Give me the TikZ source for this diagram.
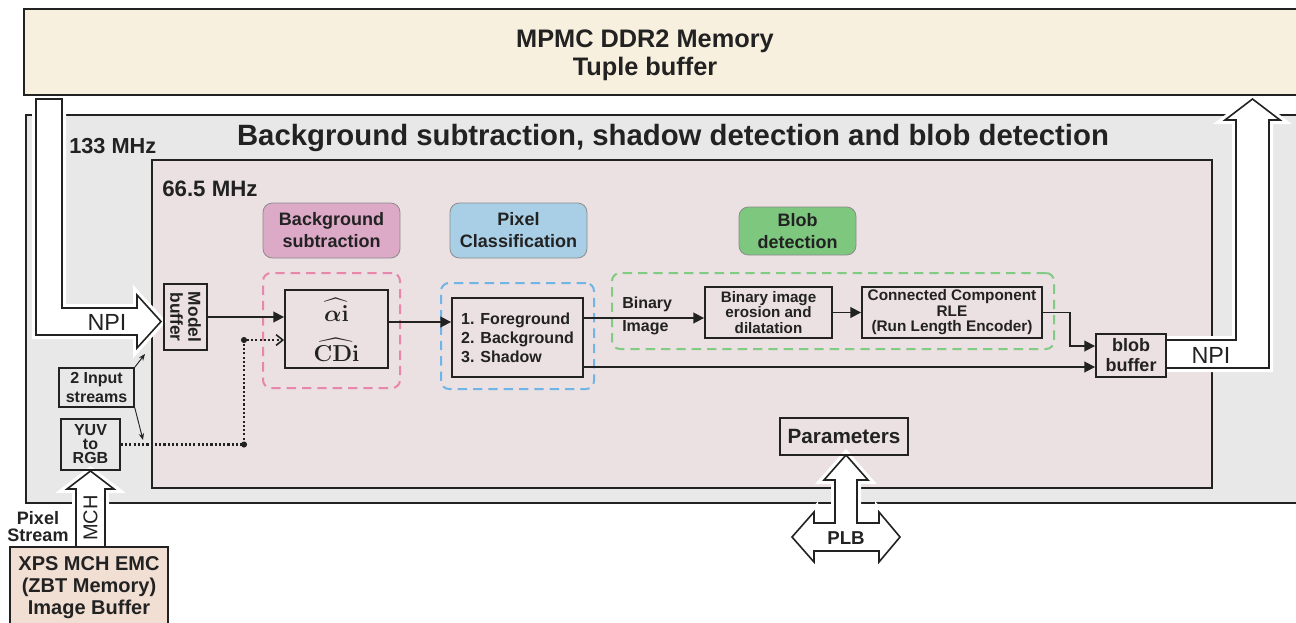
\documentclass[tikz,border=0pt]{standalone}
\usepackage{amsmath}
\usepackage[no-math]{fontspec}
\setmainfont{Liberation Sans}
\usetikzlibrary{fit,arrows.meta}
\definecolor{cream}{HTML}{F8F0DE}
\definecolor{framegray}{HTML}{E8E8E8}
\definecolor{innerpink}{HTML}{EBE0E2}
\definecolor{lblpink}{HTML}{DCA9C7}
\definecolor{lblblue}{HTML}{A9CFE6}
\definecolor{lblgreen}{HTML}{7DC77F}
\definecolor{dpink}{HTML}{E887AC}
\definecolor{dblue}{HTML}{6FB6E6}
\definecolor{dgreen}{HTML}{80CC82}
\definecolor{xpsfill}{HTML}{F2DFD3}
\definecolor{ink}{HTML}{222222}
\newcommand\fsz[2]{\fontsize{#1}{#2}\selectfont}
\begin{document}
\begin{tikzpicture}[x=0.75pt,y=-0.75pt,
  every node/.style={text=ink},
  sz/.style 2 args={minimum width={#1*0.75pt}, minimum height={#2*0.75pt}},
  region/.style={inner sep=0pt, draw=ink},
  box/.style={draw=ink, line width=1.4pt, inner sep=0pt, align=center},
  lbl/.style={rounded corners=7pt, draw=black!45, line width=0.6pt, inner sep=0pt, align=center, font=\fsz{13.5}{16.5}\bfseries},
  dbox/.style={dash pattern=on 7pt off 4.5pt, line width=1.5pt, rounded corners=6pt, inner sep=0pt},
  arr/.style={draw=ink, line width=1.3pt, -{Triangle[length=8pt,width=8pt]}},
  thinarr/.style={draw=ink, line width=0.7pt, -{Stealth[length=5pt,width=4pt]}},
  dotl/.style={draw=ink, line width=1.6pt, dash pattern=on 1.6pt off 1.6pt, -{Straight Barb[length=5pt,width=8pt,line width=1.2pt]}},
  big/.style={fill=white, draw=ink, line width=1.2pt, line join=miter, preaction={draw=white, line width=6pt}},
]
\useasboundingbox (0,0) rectangle (1296,622);
\clip (0,0) rectangle (1296,622);

% regions
\node[region, fit={(26,115)(1330,503)}, fill=framegray, line width=2.2pt] (outer) {};
\node[region, fit={(152,160)(1212,488)}, fill=innerpink, line width=1.5pt] (inner) {};

% big hollow arrows
\path[big] (36,99) -- (62,99) -- (62,308) -- (137,308) -- (137,295) -- (161,321.5) -- (137,348) -- (137,335) -- (36,335) -- cycle;
\path[big] (1166,340) -- (1236,340) -- (1236,120) -- (1225,120) -- (1252.5,99) -- (1280,120) -- (1269,120) -- (1269,368) -- (1166,368);
\path[big] (814,523) -- (835,523) -- (835,480) -- (824,480) -- (846,455) -- (868,480) -- (857,480) -- (857,523) -- (879,523) -- (879,512) -- (900,537) -- (879,562) -- (879,551) -- (814,551) -- (814,562) -- (792,537) -- (814,512) -- cycle;
\path[big] (76,547) -- (76,489) -- (67,489) -- (90.5,471) -- (114,489) -- (105,489) -- (105,547);

\node[font=\fsz{17.5}{18}] (npil) at (107,322) {NPI};
\node[font=\fsz{17.5}{18}] (npir) at (1211,355) {NPI};
\node[font=\fsz{14}{16}\bfseries] (plb) at (846,538) {PLB};
\node[font=\fsz{15}{16}, rotate=90] (mch) at (90.5,518) {MCH};

% top memory
\node[region, fit={(24,9)(1330,95)}, fill=cream, line width=1.2pt] (mpmc) {};
\node[font=\fsz{19}{21}\bfseries, align=center] (mpmctxt) at (645,55) {MPMC DDR2 Memory\\Tuple buffer};

% titles
\node[font=\fsz{22}{24}\bfseries] (title) at (673,138) {Background subtraction, shadow detection and blob detection};
\node[font=\fsz{16.3}{18}\bfseries, anchor=west, inner sep=0pt] (f133) at (69,146) {133 MHz};
\node[font=\fsz{16.7}{18}\bfseries, anchor=west, inner sep=0pt] (f665) at (162,189) {66.5 MHz};

% labels
\node[lbl, fill=lblpink, sz={137}{55}] (lbsub) at (331.5,230.5) {Background\\subtraction};
\node[lbl, fill=lblblue, sz={137}{55}] (lbpix) at (518.5,230.5) {Pixel\\Classification};
\node[lbl, fill=lblgreen, sz={117}{48}] (lbblob) at (797.5,231) {Blob\\detection};

% dashed groups
\node[dbox, draw=dpink, sz={137}{115}] (gsub) at (331.5,330.5) {};
\node[dbox, draw=dblue, sz={153}{106}] (gpix) at (517.5,336) {};
\node[dbox, draw=dgreen, sz={442}{76}] (gblob) at (833,311) {};

% process boxes
\node[box, sz={43}{66}] (mb) at (185.5,317) {};
\node[rotate=-90, font=\fsz{13}{13.5}\bfseries, align=center, inner sep=0pt] (mbtxt) at (mb.center) {Model\\buffer};
\node[box, sz={103}{78}] (alpha) at (336.5,329) {};
\node[font=\boldmath\fsz{18}{20}, inner sep=0pt] (alphatxt) at (336.5,310) {$\widehat{\alpha\mathbf{i}}$};
\node[font=\boldmath\fsz{17}{20}, inner sep=0pt] (cdtxt) at (336.5,350) {$\widehat{\mathbf{CDi}}$};
\node[box, sz={131}{79}] (cls) at (517.5,337.5) {};
\node[font=\fsz{12}{14.25}\bfseries, align=left, inner sep=0pt] (clstxt) at (cls.center) {1. Foreground\\2. Background\\3. Shadow};
\node[font=\fsz{12}{17}\bfseries, align=left, anchor=west, inner sep=0pt] (bin) at (622,316) {Binary\\Image};
\node[box, sz={127}{51}, font=\fsz{11.4}{11.6}\bfseries] (ero) at (768.5,312.5) {Binary image\\erosion and\\dilatation};
\node[box, sz={180}{51}, font=\fsz{11.5}{11.6}\bfseries] (cc) at (952,312.5) {Connected Component\\RLE\\(Run Length Encoder)};
\node[box, fill=innerpink, sz={70}{43}, font=\fsz{13.5}{15}\bfseries] (blob) at (1131,355.5) {blob\\buffer};
\node[box, sz={128}{37}, font=\fsz{15.5}{16}\bfseries] (params) at (844,436.5) {Parameters};

% left-bottom
\node[box, line width=1.2pt, sz={75}{39}, font=\fsz{12}{14}\bfseries] (inp) at (96.5,387.5) {2 Input\\streams};
\node[box, line width=1.2pt, sz={59}{51}, font=\fsz{12}{10.5}\bfseries] (yuv) at (90.5,444.5) {YUV\\to\\RGB};
\node[region, line width=1.2pt, fit={(10,547)(168,640)}, fill=xpsfill] (xps) {};
\node[font=\fsz{15}{16.5}\bfseries, align=center] (xpstxt) at (89,588) {XPS MCH EMC\\(ZBT Memory)\\Image Buffer};
\node[font=\fsz{13.5}{12.75}\bfseries, align=center] (pix) at (38,527) {Pixel\\Stream};

% connectors
\coordinate (y322) at (0,322);
\coordinate (y318) at (0,318);
\coordinate (y367) at (0,367);
\coordinate (bend) at (1070,346);
\coordinate (j1) at (244,444.5);
\coordinate (j2) at (244,340);
\coordinate (c1) at (145,354);
\coordinate (c2) at (143,440);

\draw[arr] (mb.east) -- (mb.east -| alpha.west);
\draw[arr] (alpha.east |- y322) -- (cls.west |- y322);
\draw[arr] (cls.east |- y318) -- (ero.west |- y318);
\draw[arr] (ero.east) -- (cc.west);
\draw[arr] (cc.east) -| (bend) -- (blob.west |- bend);
\draw[arr] (cls.east |- y367) -- (blob.west |- y367);

\draw[dotl] (yuv.east) -- (j1) -- (j2) -- (j2 -| alpha.west);
\fill[ink] (j1) circle (2.3pt) (j2) circle (2.3pt);

\draw[thinarr] (inp.north east) -- (c1);
\draw[thinarr] (inp.south east) -- (c2);
\end{tikzpicture}
\end{document}
